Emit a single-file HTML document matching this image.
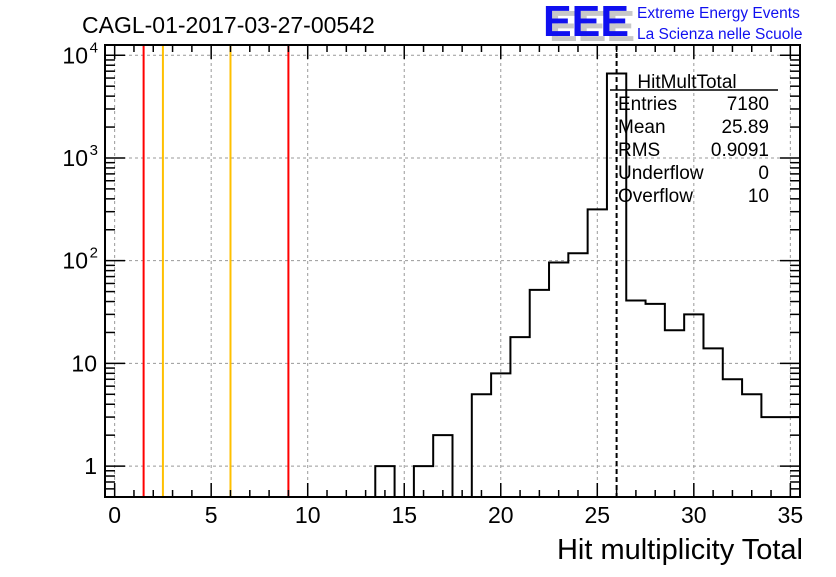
<!DOCTYPE html>
<html><head><meta charset="utf-8"><style>
body{margin:0;background:#fff;}
svg text{font-family:"Liberation Sans",sans-serif;}
</style></head><body>
<svg id="chart" width="836" height="572" xmlns="http://www.w3.org/2000/svg">
<rect width="836" height="572" fill="#fff"/>
<g id="grid"></g>
<g id="lines"></g>
<g id="hist"></g>
<g id="axes"></g>
<text x="82" y="33" font-size="23">CAGL-01-2017-03-27-00542</text>
<text x="803" y="559" font-size="29" text-anchor="end">Hit multiplicity Total</text>
<g>
<text x="549" y="41" font-size="44" font-weight="bold" fill="#c8c8c8" textLength="86" lengthAdjust="spacingAndGlyphs">EEE</text>
<text x="543" y="36" font-size="44" font-weight="bold" fill="#1010f0" textLength="86" lengthAdjust="spacingAndGlyphs">EEE</text>
<text x="637" y="18" font-size="15.5" fill="#1010f0">Extreme Energy Events</text>
<text x="637" y="39" font-size="15.5" fill="#1010f0">La Scienza nelle Scuole</text>
</g>
<g>
<text x="687" y="88" font-size="19" text-anchor="middle">HitMultTotal</text>
<line x1="610" y1="90" x2="778" y2="90" stroke="#000" stroke-width="1.5"/>
<g id="stats" font-size="19"></g>
</g>
</svg>
<script>
const binCenters=[14,15,16,17,18,19,20,21,22,23,24,25,26,27,28,29,30,31,32,33,34,35];
const binCounts=[1,0,1,2,0,5,8,18,52,96,118,316,6650,41,38,21,30,14,7,5,3,3];
const xTicks=[0,5,10,15,20,25,30,35];
const yTicks=[1,10,100,1000,10000];
const yTickLabels=["1","10","10^2","10^3","10^4"];
const markerX=[1.5,2.5,6,9];
const markerColors=["#ff0000","#ffc000","#ffc000","#ff0000"];
const meanLine=26;
const statLabels=["Entries","Mean","RMS","Underflow","Overflow"];
const statValues=["7180","25.89","0.9091","0","10"];

const L=105,R=800,T=45,B=497,xmin=-0.5,xmax=35.5,lmin=Math.log10(0.5),lmax=4.1;
const X=v=>L+(v-xmin)/(xmax-xmin)*(R-L);
const Y=v=>B-(Math.log10(v)-lmin)/(lmax-lmin)*(B-T);
const NS="http://www.w3.org/2000/svg";
function mk(tag,attrs,parent){const e=document.createElementNS(NS,tag);for(const k in attrs)e.setAttribute(k,attrs[k]);parent.appendChild(e);return e;}
const grid=document.getElementById('grid'),axes=document.getElementById('axes'),hist=document.getElementById('hist'),lines=document.getElementById('lines');
xTicks.forEach(t=>{const g=mk('line',{x1:X(t),x2:X(t),y1:T,y2:B,stroke:'#999','stroke-dasharray':'3,3','stroke-width':1},grid);

});
yTicks.forEach(t=>{const g=mk('line',{x1:L,x2:R,y1:Y(t),y2:Y(t),stroke:'#999','stroke-dasharray':'3,3','stroke-width':1},grid);

});
markerX.forEach((m,i)=>{const l=mk('line',{x1:X(m),x2:X(m),y1:T,y2:B,stroke:markerColors[i],'stroke-width':2},lines);

});
const ml=mk('line',{x1:X(meanLine),x2:X(meanLine),y1:T,y2:B,stroke:'#000','stroke-width':2,'stroke-dasharray':'5,3'},lines);


let d='',floor=B;
binCenters.forEach((c,i)=>{const v=binCounts[i];const y=v>0?Y(v):floor;const x0=X(c-0.5),x1=X(c+0.5);
d+=(i===0?`M${x0},${floor}`:'')+`L${x0},${y}L${x1},${y}`;});
d+=`L${X(binCenters[binCenters.length-1]+0.5)},${floor}`;
const hp=mk('path',{d:d,fill:'none',stroke:'#000','stroke-width':2},hist);


const fr=mk('rect',{x:L,y:T,width:R-L,height:B-T,fill:'none',stroke:'#000','stroke-width':2},axes);


for(let v=0;v<=35;v++){const major=v%5===0,len=major?14:7;
mk('line',{x1:X(v),x2:X(v),y1:B,y2:B-len,stroke:'#000','stroke-width':1.5},axes);
mk('line',{x1:X(v),x2:X(v),y1:T,y2:T+len,stroke:'#000','stroke-width':1.5},axes);}
xTicks.forEach(t=>{const tx=mk('text',{x:X(t),y:B+26,'font-size':23,'text-anchor':'middle'},axes);tx.textContent=t;

});
for(let e=-1;e<=4;e++)for(let m=1;m<10;m++){const v=m*Math.pow(10,e);if(v<0.5||Math.log10(v)>lmax)continue;const len=m===1?20:10;
mk('line',{x1:L,x2:L+len,y1:Y(v),y2:Y(v),stroke:'#000','stroke-width':1.5},axes);
mk('line',{x1:R,x2:R-len,y1:Y(v),y2:Y(v),stroke:'#000','stroke-width':1.5},axes);}
yTicks.forEach((t,i)=>{const lab=yTickLabels[i];const tx=mk('text',{x:L-8,y:Y(t)+8,'font-size':23,'text-anchor':'end'},axes);
if(lab.indexOf('^')>=0){const p=lab.split('^');tx.setAttribute('x',L-17);tx.textContent=p[0];
const s=mk('text',{x:L-7,y:Y(t)-3,'font-size':15,'text-anchor':'end'},axes);s.textContent=p[1];

}
else tx.textContent=lab;

});
const st=document.getElementById('stats');
statLabels.forEach((s,i)=>{const y=110+i*23;
const a=mk('text',{x:618,y:y},st);a.textContent=s;


const b=mk('text',{x:769,y:y,'text-anchor':'end'},st);b.textContent=statValues[i];

});
</script>
</body></html>
